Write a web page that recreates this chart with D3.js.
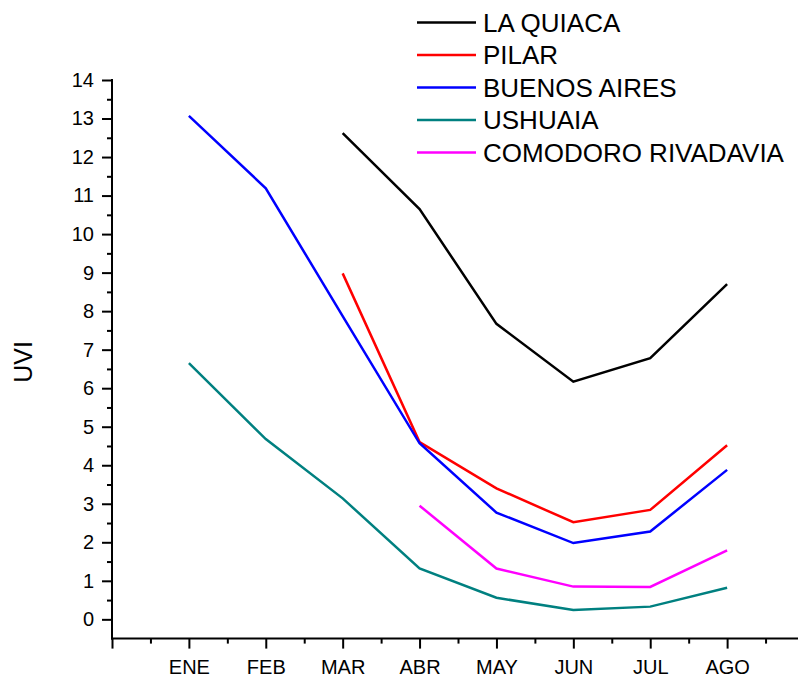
<!DOCTYPE html>
<html>
<head>
<meta charset="utf-8">
<script src="https://cdn.jsdelivr.net/npm/d3@7/dist/d3.min.js"></script>
<style>
  html, body { margin: 0; padding: 0; background: #fff; }
  svg { display: block; font-family: "Liberation Sans", Arial, sans-serif; }
</style>
</head>
<body>
<svg id="chart" width="798" height="677"></svg>
<script>
// ---- Data ----
const categories = ["ENE", "FEB", "MAR", "ABR", "MAY", "JUN", "JUL", "AGO"];
const seriesNames = ["LA QUIACA", "PILAR", "BUENOS AIRES", "USHUAIA", "COMODORO RIVADAVIA"];
const seriesColors = ["#000000", "#ff0000", "#0000ff", "#008080", "#ff00ff"];
const laQuiaca   = [null, null, 12.62, 10.65, 7.67, 6.17, 6.78, 8.70];
const pilar      = [null, null, 8.98, 4.60, 3.40, 2.52, 2.84, 4.52];
const buenosAires= [13.07, 11.19, 7.87, 4.57, 2.77, 1.98, 2.28, 3.88];
const ushuaia    = [6.65, 4.68, 3.14, 1.32, 0.56, 0.24, 0.33, 0.82];
const comodoro   = [null, null, null, 2.95, 1.32, 0.85, 0.84, 1.79];
const yTicks = [0,1,2,3,4,5,6,7,8,9,10,11,12,13,14];
const yLabel = "UVI";

const allSeries = [laQuiaca, pilar, buenosAires, ushuaia, comodoro];

// ---- Layout ----
const svg = d3.select("#chart");
const x = d3.scaleLinear().domain([0, 9]).range([112, 804]);
const y = d3.scaleLinear().domain([-0.5, 14]).range([638.6, 80]);

// ---- Axes ----
const axisColor = "#000";
// Y axis
const yAxisMajor = d3.axisLeft(y).tickValues(yTicks).tickSize(10).tickPadding(8).tickFormat(d3.format("d"));
const gy = svg.append("g").attr("transform", "translate(112,0)").call(yAxisMajor);
gy.select(".domain").remove();
gy.selectAll(".tick line").attr("stroke", axisColor).attr("stroke-width", 2);
gy.selectAll(".tick text").attr("font-size", 20).attr("fill", "#000")
  .attr("font-family", "'Liberation Sans', Arial, sans-serif");
const yMinor = d3.range(0, 14).map(d => d + 0.5);
const gyMinor = svg.append("g").attr("transform", "translate(112,0)")
  .call(d3.axisLeft(y).tickValues(yMinor).tickSize(5).tickFormat(""));
gyMinor.select(".domain").remove();
gyMinor.selectAll(".tick line").attr("stroke", axisColor).attr("stroke-width", 2);

// X axis
const xAxisMajor = d3.axisBottom(x).tickValues(d3.range(0, 9)).tickSize(10).tickPadding(11)
  .tickFormat(i => i === 0 ? "" : categories[i - 1]);
const gx = svg.append("g").attr("transform", "translate(0,638.6)").call(xAxisMajor);
gx.select(".domain").remove();
gx.selectAll(".tick line").attr("stroke", axisColor).attr("stroke-width", 2);
gx.selectAll(".tick text").attr("font-size", 20).attr("fill", "#000")
  .attr("font-family", "'Liberation Sans', Arial, sans-serif");
const xMinor = d3.range(0, 9).map(d => d + 0.5);
const gxMinor = svg.append("g").attr("transform", "translate(0,638.6)")
  .call(d3.axisBottom(x).tickValues(xMinor).tickSize(5).tickFormat(""));
gxMinor.select(".domain").remove();
gxMinor.selectAll(".tick line").attr("stroke", axisColor).attr("stroke-width", 2);

// Axis lines
svg.append("line").attr("x1", x(0)).attr("x2", x(0)).attr("y1", y(14) - 1).attr("y2", y(-0.5) + 1)
  .attr("stroke", axisColor).attr("stroke-width", 2);
svg.append("line").attr("x1", x(0) - 1).attr("x2", x(9)).attr("y1", y(-0.5)).attr("y2", y(-0.5))
  .attr("stroke", axisColor).attr("stroke-width", 2);

// Y label
svg.append("text").attr("transform", "translate(32,362) rotate(-90)")
  .attr("text-anchor", "middle").attr("font-size", 25).attr("fill", "#000").text(yLabel);

// ---- Lines ----
const line = d3.line()
  .defined(d => d != null)
  .x((d, i) => x(i + 1))
  .y(d => y(d));
allSeries.forEach((s, k) => {
  svg.append("path").datum(s).attr("d", line)
    .attr("fill", "none").attr("stroke", seriesColors[k]).attr("stroke-width", 2.5)
    .attr("stroke-linejoin", "miter");
});

// ---- Legend ----
const legend = svg.append("g");
seriesNames.forEach((name, k) => {
  const cy = 22.5 + k * 32.5;
  legend.append("line").attr("x1", 417).attr("x2", 476).attr("y1", cy).attr("y2", cy)
    .attr("stroke", seriesColors[k]).attr("stroke-width", 2.5);
  legend.append("text").attr("x", 483).attr("y", cy + 9.3)
    .attr("font-size", 26).attr("fill", "#000").text(name);
});
</script>
</body>
</html>
